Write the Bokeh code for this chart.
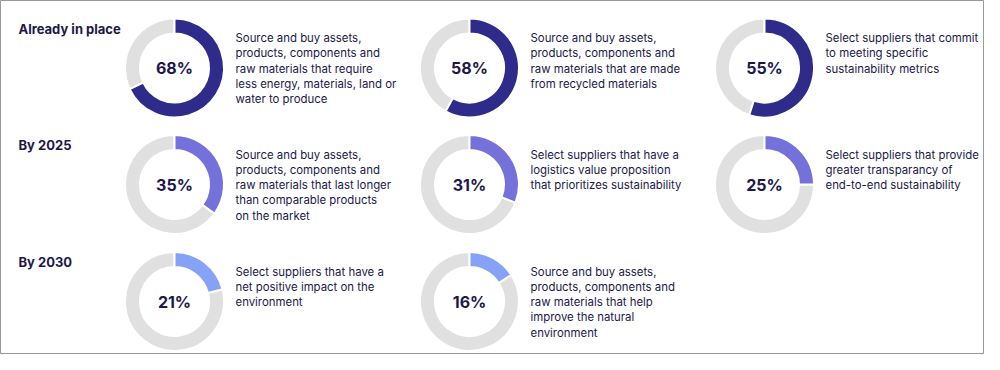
import math
from bokeh.plotting import figure
from bokeh.models import ColumnDataSource, Range1d
from bokeh.core.properties import value
from bokeh.embed import file_html
from bokeh.resources import INLINE

# ---- data ----
groups = ["Already in place", "By 2025", "By 2030"]
percents = [68, 58, 55, 35, 31, 25, 21, 16]
group_index = [0, 0, 0, 1, 1, 1, 2, 2]
column_index = [0, 1, 2, 0, 1, 2, 0, 1]
descriptions = [
    ["Source and buy assets,", "products, components and", "raw materials that require",
     "less energy, materials, land or", "water to produce"],
    ["Source and buy assets,", "products, components and", "raw materials that are made",
     "from recycled materials"],
    ["Select suppliers that commit", "to meeting specific", "sustainability metrics"],
    ["Source and buy assets,", "products, components and", "raw materials that last longer",
     "than comparable products", "on the market"],
    ["Select suppliers that have a", "logistics value proposition",
     "that prioritizes sustainability"],
    ["Select suppliers that provide", "greater transparancy of", "end-to-end sustainability"],
    ["Select suppliers that have a", "net positive impact on the", "environment"],
    ["Source and buy assets,", "products, components and", "raw materials that help",
     "improve the natural", "environment"],
]
group_colors = ["#2e2b8a", "#7471da", "#86a2f6"]
grey = "#e0e0e0"
text_color = "#1b1849"

# ---- layout ----
W, H = 984, 354
FONT = "Inter"
col_x = [174, 469, 764]
row_y = [67.5, 184, 301]


def Y(yref):
    return 370 - yref


p = figure(width=W, height=H, output_backend="svg", toolbar_location=None,
           x_range=Range1d(0, W), y_range=Range1d(370 - H, 370), min_border=0)
p.axis.visible = False
p.grid.visible = False
p.outline_line_color = "#9a9a9a"
p.background_fill_color = "white"

cx = [col_x[c] for c in column_index]
cy = [Y(row_y[r]) for r in group_index]
frac = [v / 100 for v in percents]
col = [group_colors[r] for r in group_index]

ring = ColumnDataSource(dict(
    x=cx, y=cy,
    s_col=[math.pi / 2 - 2 * math.pi * f for f in frac],
    e_col=[math.pi / 2] * len(frac),
    s_grey=[math.pi / 2] * len(frac),
    e_grey=[math.pi / 2 - 2 * math.pi * f + 2 * math.pi for f in frac],
    color=col,
    label=[f"{v}%" for v in percents],
))

p.annular_wedge(x="x", y="y", inner_radius=34.5, outer_radius=49.5,
                inner_radius_units="screen", outer_radius_units="screen",
                start_angle="s_grey", end_angle="e_grey",
                fill_color=grey, line_color="white", line_width=2, source=ring)
p.annular_wedge(x="x", y="y", inner_radius=34.5, outer_radius=49.5,
                inner_radius_units="screen", outer_radius_units="screen",
                start_angle="s_col", end_angle="e_col",
                fill_color="color", line_color="white", line_width=2, source=ring)

p.text(x="x", y="y", text="label", source=ring, text_align="center",
       text_baseline="middle", text_font=value(FONT), text_font_style="bold",
       text_font_size="16px", text_color=text_color)

# descriptions
lx, ly, lt = [], [], []
for i, lines in enumerate(descriptions):
    for j, line in enumerate(lines):
        lx.append(col_x[column_index[i]] + 61)
        ly.append(Y(row_y[group_index[i]] - 30 + j * 15.3))
        lt.append(line)
p.text(x=lx, y=ly, text=lt, text_align="left", text_baseline="middle",
       text_font=value(FONT), text_font_size="11.4px", text_color=text_color)

# group labels
p.text(x=[18] * len(groups), y=[Y(r - 39.5) for r in row_y], text=groups,
       text_align="left", text_baseline="middle", text_font=value(FONT),
       text_font_style="bold", text_font_size="13px", text_color=text_color)

open("out.html", "w").write(file_html(p, INLINE))
